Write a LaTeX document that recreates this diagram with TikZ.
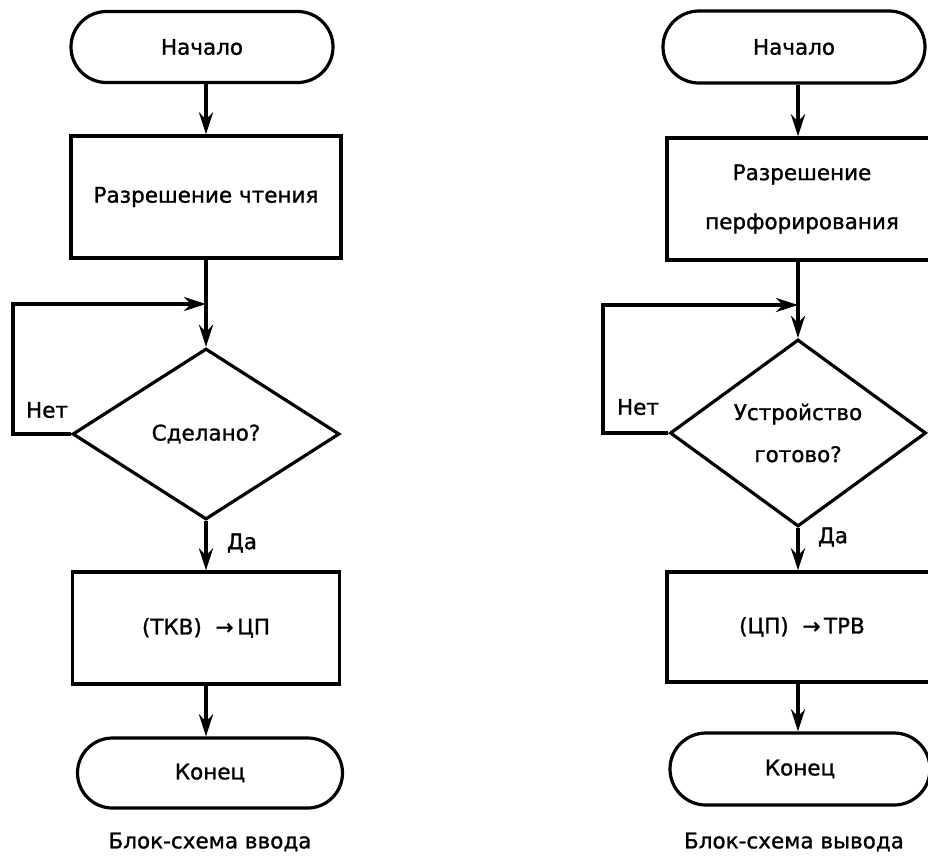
\documentclass[tikz,border=0pt]{standalone}
\usepackage{fontspec}
\setmainfont{DejaVu Sans}[FakeBold=1.2]
\usetikzlibrary{shapes.geometric,shapes.misc,arrows.meta}
\begin{document}
\begin{tikzpicture}[x=1pt,y=-1pt,
  every node/.style={font=\fontsize{21.5}{26}\selectfont},
  term/.style={draw, line width=3.2pt, rounded rectangle, inner sep=0pt},
  proc/.style={draw, line width=3.2pt, rectangle, inner sep=0pt, align=center},
  decide/.style={draw, line width=3.2pt, diamond, inner sep=0pt, align=center},
  flow/.style={line width=4pt, -{Stealth[length=22pt,width=14pt,inset=7pt]}},
  plain/.style={line width=4pt},
  lbl/.style={inner sep=0pt},
  caption/.style={inner sep=0pt, font=\fontsize{21.5}{26}\selectfont},
]
\useasboundingbox (0,0) rectangle (928,855);
\clip (0,0) rectangle (928,855);

% ---------- input routine ----------
\node[term, minimum width=262pt, minimum height=71pt] (s1) at (202,47) {Начало};
\node[proc, minimum width=270pt, minimum height=122pt] (b1) at (206,197) {Разрешение чтения};
\coordinate (j1) at (206,304);
\coordinate (l1) at (13,304);
\node[decide, minimum width=267pt, minimum height=171pt] (d1) at (206,434) {Сделано?};
\node[proc, minimum width=267pt, minimum height=112pt] (b2) at (206,628) {(ТКВ)~~→\,ЦП};
\node[term, minimum width=265pt, minimum height=70pt] (s2) at (210,773) {Конец};
\node[lbl] (n1) at (47,410) {Нет};
\node[lbl] (y1) at (242,543) {Да};
\node[caption] (c1) at (210,842) {Блок-схема ввода};

\draw[flow] (s1.south -| b1.north) -- (b1.north);
\draw[plain] (b1.south) -- (j1);
\draw[flow] (j1) -- (d1.north);
\draw[flow] (d1.west) -| (l1) -- (j1);
\draw[flow] (d1.south) -- (b2.north);
\draw[flow] (b2.south) -- (b2.south |- s2.north);

% ---------- output routine ----------
\node[term, minimum width=262pt, minimum height=72pt] (s3) at (794,47) {Начало};
\node[proc, minimum width=270pt, minimum height=122pt,
      font=\fontsize{21.5}{49}\selectfont] (b3) at (802,199) {Разрешение\\перфорирования};
\coordinate (j2) at (798,305);
\coordinate (l2) at (603,305);
\node[decide, minimum width=256pt, minimum height=172pt,
      font=\fontsize{21.5}{42}\selectfont] (d2) at (798,433) {Устройство\\готово?};
\node[proc, minimum width=270pt, minimum height=110pt] (b4) at (802,627) {(ЦП)~~→\,ТРВ};
\node[term, minimum width=260pt, minimum height=72pt] (s4) at (800,769) {Конец};
\node[lbl] (n2) at (638,407) {Нет};
\node[lbl] (y2) at (833,537) {Да};
\node[caption] (c2) at (794,842) {Блок-схема вывода};

\draw[flow] (s3.south -| d2.north) -- (b3.north -| d2.north);
\draw[plain] (b3.south -| d2.north) -- (j2);
\draw[flow] (j2) -- (d2.north);
\draw[flow] (d2.west) -| (l2) -- (j2);
\draw[flow] (d2.south) -- (b4.north -| d2.south);
\draw[flow] (b4.south -| d2.south) -- (s4.north -| d2.south);
\end{tikzpicture}
\end{document}
